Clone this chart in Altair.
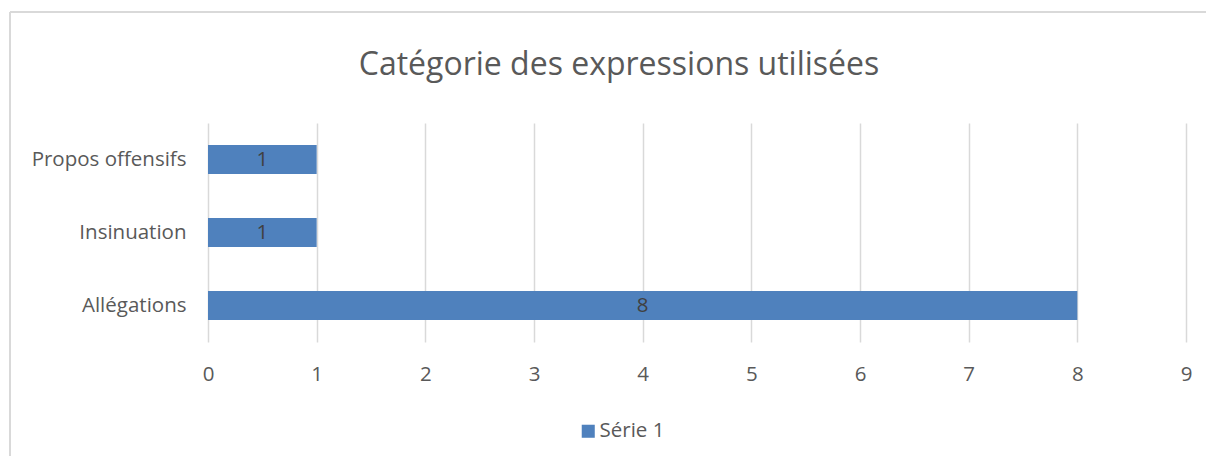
import altair as alt
import pandas as pd

categories = ["Propos offensifs", "Insinuation", "Allégations"]
values = [1, 1, 8]
series = ["Série 1", "Série 1", "Série 1"]
x_ticks = [0, 1, 2, 3, 4, 5, 6, 7, 8, 9]
title_text = "Catégorie des expressions utilisées"

df = pd.DataFrame({"cat": categories, "val": values, "serie": series})
df["mid"] = df["val"] / 2

FONT = "Open Sans"
GRAY = "#595959"
FS = 20.5

base = alt.Chart(df)

bars = base.mark_bar(color="#4F81BD").encode(
    y=alt.Y("cat:N", sort=categories, title=None,
            scale=alt.Scale(paddingInner=0.6, paddingOuter=0.3),
            axis=alt.Axis(labelFontSize=FS, labelColor=GRAY, labelFont=FONT,
                          labelPadding=22, ticks=False, domain=False, grid=False)),
    x=alt.X("val:Q", title=None,
            scale=alt.Scale(domain=[0, 9], nice=False),
            axis=alt.Axis(values=x_ticks, format="d", labelFontSize=FS,
                          labelColor=GRAY, labelFont=FONT, labelPadding=22,
                          labelFlush=False,
                          ticks=False, domain=False, grid=True,
                          gridColor="#D9D9D9", gridWidth=1.5)),
    color=alt.Color("serie:N", title=None,
                    scale=alt.Scale(range=["#4F81BD"]),
                    legend=alt.Legend(orient="none", legendX=370, legendY=298,
                                      symbolType="square", symbolSize=170,
                                      symbolStrokeWidth=0,
                                      labelFontSize=FS, labelColor=GRAY,
                                      labelFont=FONT, labelOffset=1)),
)

labels = base.mark_text(fontSize=FS, color="#404040", font=FONT,
                        baseline="middle", align="center").encode(
    y=alt.Y("cat:N", sort=categories),
    x=alt.X("mid:Q"),
    text=alt.Text("val:Q", format="d"),
)

title = alt.Chart(pd.DataFrame({"t": [title_text]})).mark_text(
    fontSize=32, color=GRAY, font=FONT, align="center", baseline="middle"
).encode(x=alt.value(411), y=alt.value(-58), text="t:N")

border_left = base.mark_rule(color="#D9D9D9", strokeWidth=1.5).encode(
    x=alt.value(-198), y=alt.value(-111), y2=alt.value(400)
)
border_top = base.mark_rule(color="#D9D9D9", strokeWidth=1.5).encode(
    x=alt.value(-198), x2=alt.value(1100), y=alt.value(-111)
)

chart = alt.layer(border_left, border_top, bars, labels, title).properties(
    width=978, height=219,
    padding={"left": 200, "top": 115, "right": 20, "bottom": 114},
    autosize=alt.AutoSizeParams(type="none"),
).configure_view(stroke=None)

chart.save("out.html", embed_options={"renderer": "svg", "actions": False})
